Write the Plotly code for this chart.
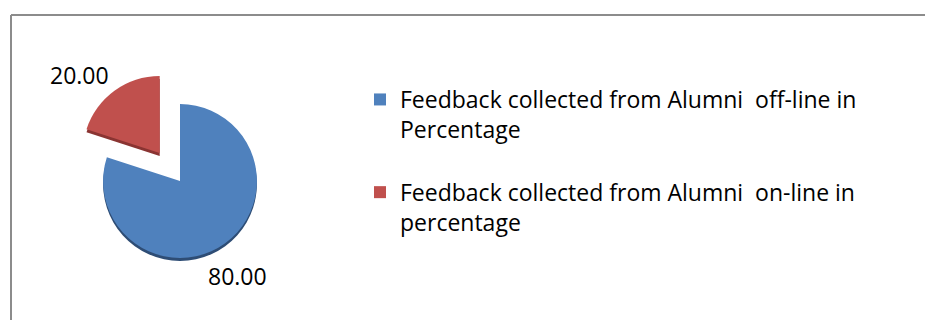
import plotly.graph_objects as go

# Alumni feedback split (percent)
labels = [
    "Feedback collected from Alumni&nbsp; off-line in<br>Percentage<br>&nbsp;",
    "Feedback collected from Alumni&nbsp; on-line in<br>percentage<br>&nbsp;",
]
values = [80.0, 20.0]
colors = ["#4F81BD", "#C0504D"]
rim_colors = ["#2E4D75", "#8A3432"]
pull = [0, 0.45]

W, H = 925, 320
FONT = "Open Sans"

# pie box in pixels (centre and side length), converted to paper fractions
cx, cy, side = 180, 181, 223
dom_x = [(cx - side / 2) / W, (cx + side / 2) / W]
dom_y = [1 - (cy + side / 2) / H, 1 - (cy - side / 2) / H]
rim = 3  # depth of the darker rim under the slices, px
rim_y = [dom_y[0] - rim / H, dom_y[1] - rim / H]

# where the value labels sit (pixel centres)
label_px = [(237, 276), (79, 75)]

fig = go.Figure()

# darker copy slightly lower -> gives the slices a thin 3D edge
fig.add_trace(go.Pie(
    labels=labels, values=values, sort=False, direction="clockwise", rotation=0,
    pull=pull, marker=dict(colors=rim_colors, line=dict(width=0)),
    textinfo="none", hoverinfo="skip", showlegend=False,
    domain=dict(x=dom_x, y=rim_y),
))

fig.add_trace(go.Pie(
    labels=labels, values=values, sort=False, direction="clockwise", rotation=0,
    pull=pull, marker=dict(colors=colors, line=dict(width=0)),
    textinfo="none", hovertemplate="%{value:.2f}<extra></extra>",
    domain=dict(x=dom_x, y=dom_y),
))

annotations = [
    dict(text=f"{v:.2f}", xref="paper", yref="paper",
         x=px / W, y=1 - py / H, xanchor="center", yanchor="middle",
         showarrow=False, font=dict(family=FONT, size=23, color="#000000"))
    for v, (px, py) in zip(values, label_px)
]

fig.update_layout(
    width=W, height=H,
    margin=dict(l=0, r=0, t=0, b=0),
    paper_bgcolor="white", plot_bgcolor="white",
    font=dict(family=FONT, color="#000000"),
    annotations=annotations,
    legend=dict(
        x=360 / W, xanchor="left", y=1 - 78 / H, yanchor="top",
        valign="top", font=dict(family=FONT, size=23, color="#000000"),
        bgcolor="rgba(0,0,0,0)",
    ),
    shapes=[
        dict(type="line", xref="paper", yref="paper",
             x0=11 / W, x1=1, y0=1 - 15 / H, y1=1 - 15 / H,
             line=dict(color="#8C8C8C", width=2)),
        dict(type="line", xref="paper", yref="paper",
             x0=11 / W, x1=11 / W, y0=0, y1=1 - 15 / H,
             line=dict(color="#8C8C8C", width=2)),
    ],
)

fig.write_html("out.html")
